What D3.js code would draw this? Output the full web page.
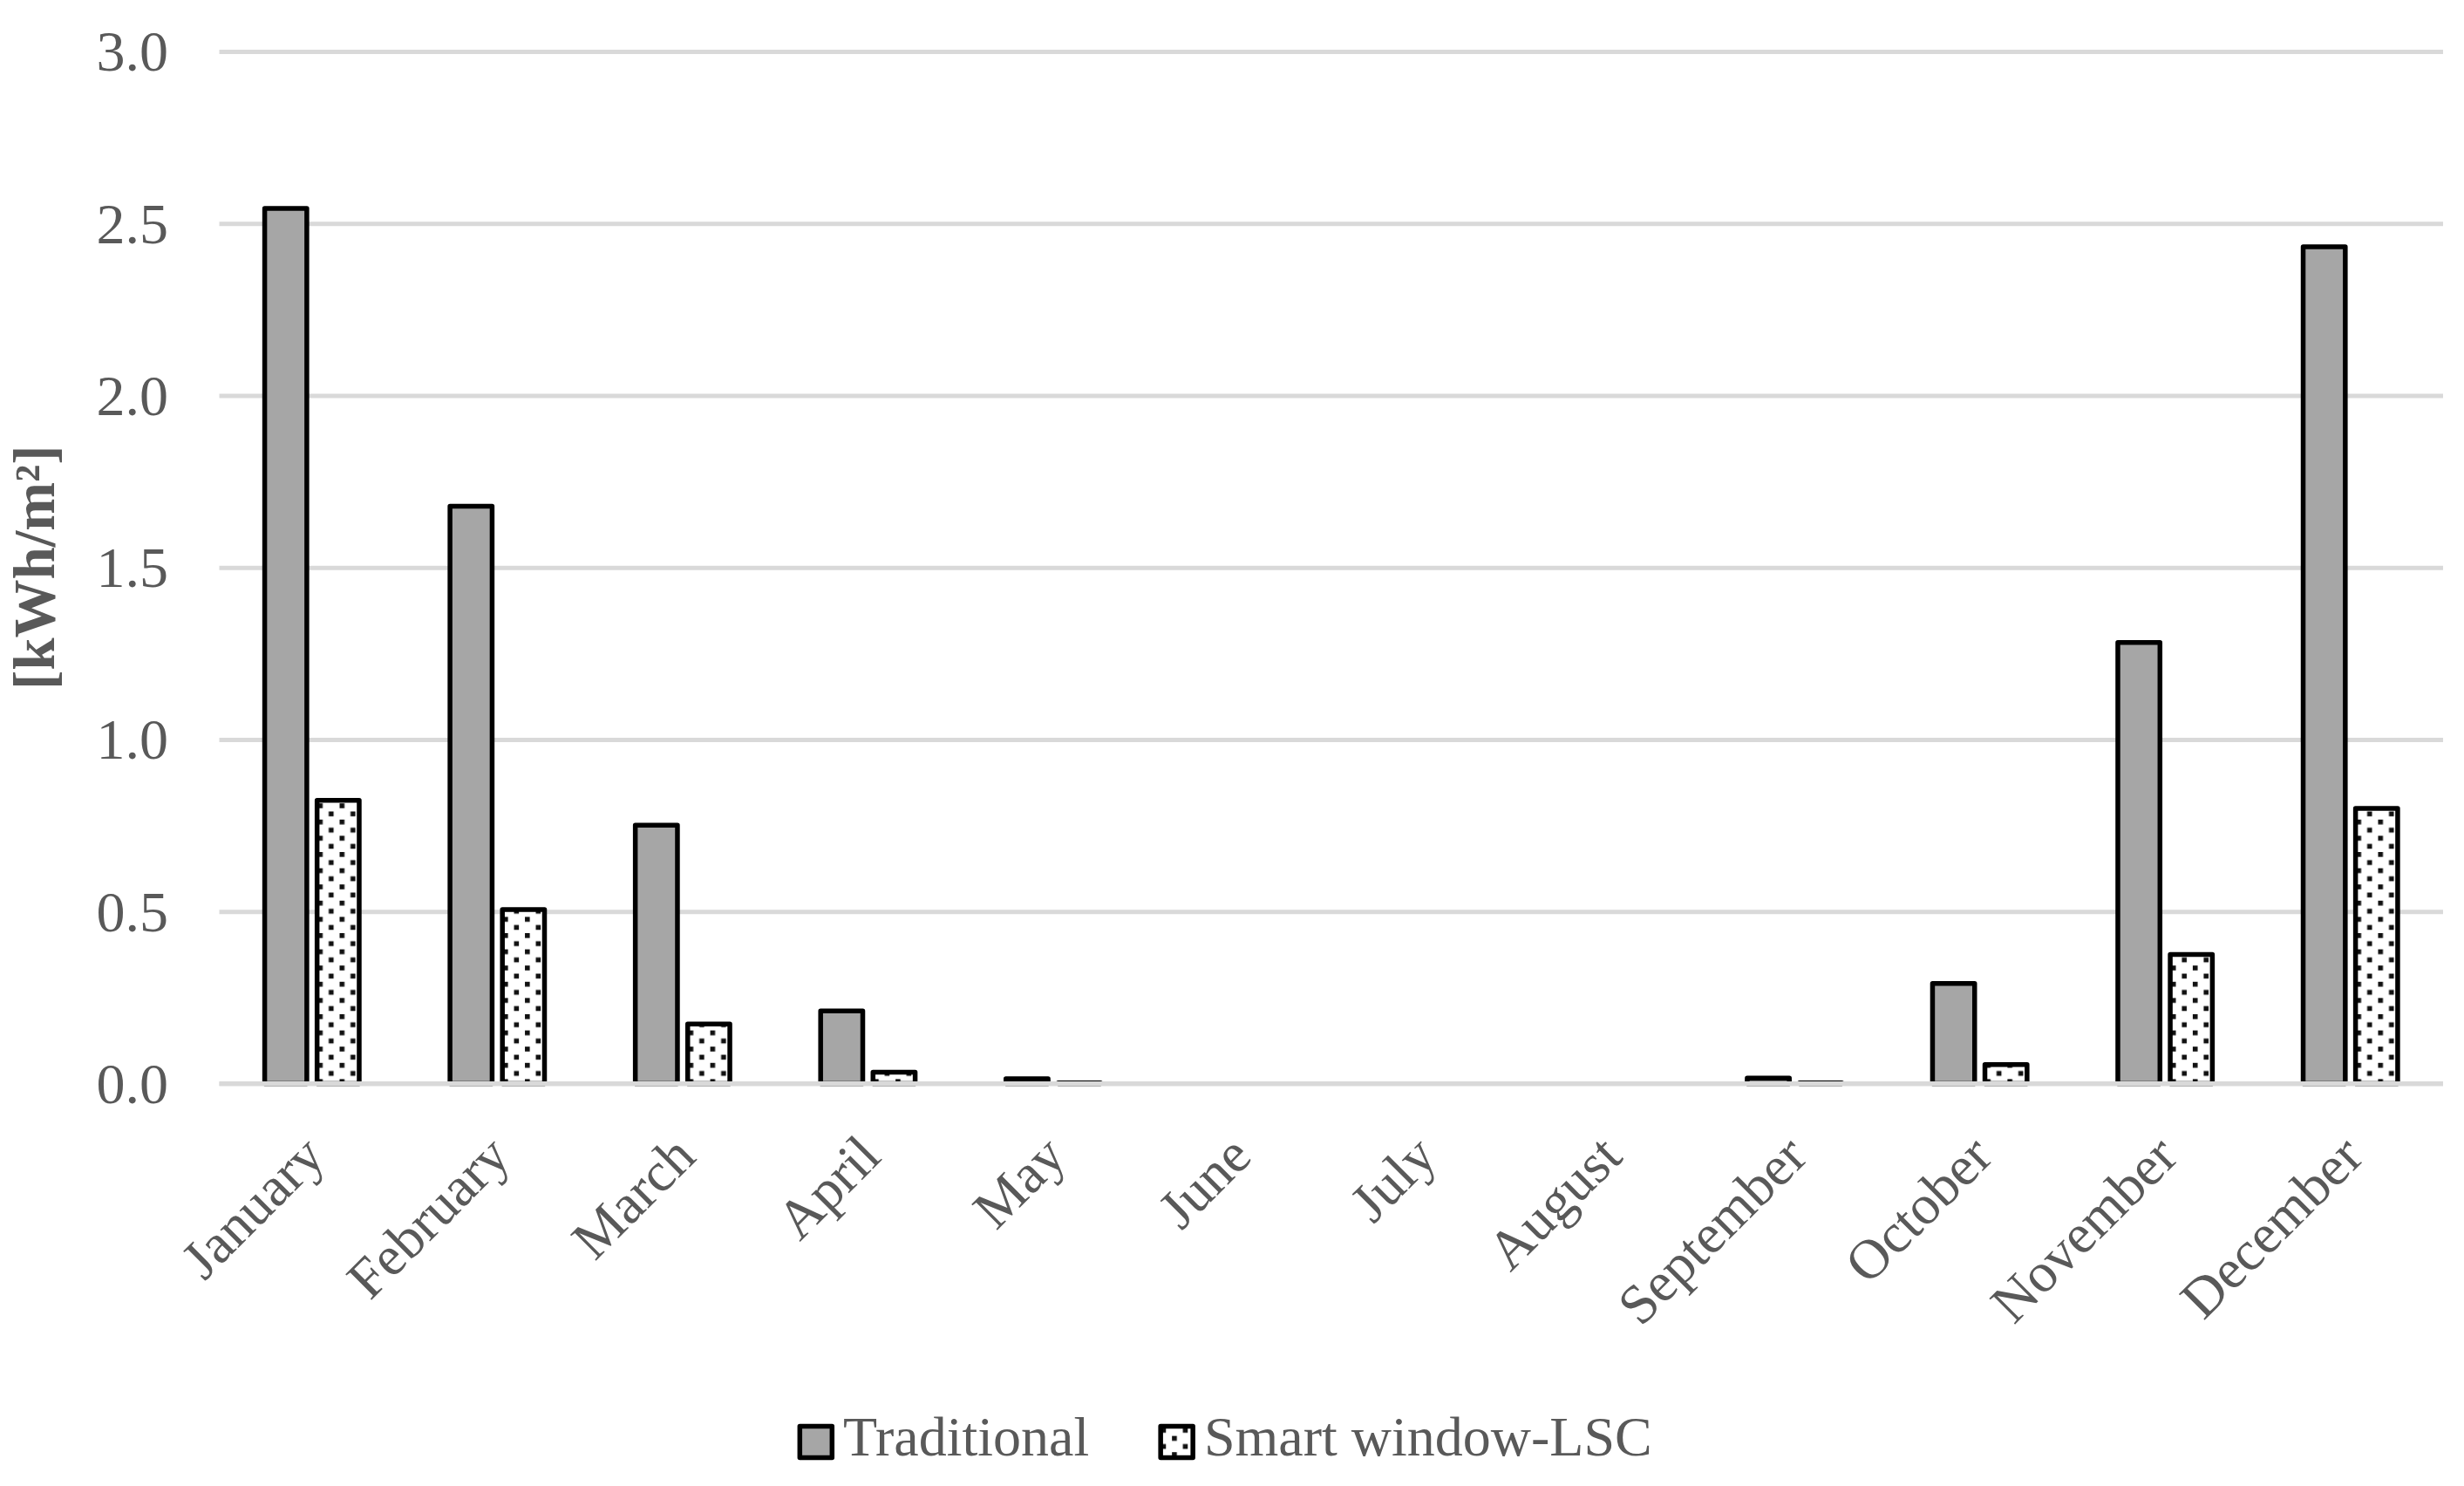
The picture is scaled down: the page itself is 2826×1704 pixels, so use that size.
<!DOCTYPE html>
<html>
<head>
<meta charset="utf-8">
<script src="https://cdn.jsdelivr.net/npm/d3@7"></script>
<style>
  html, body { margin: 0; padding: 0; background: #ffffff; }
  svg { display: block; }
</style>
</head>
<body>
<script>
// ---- Data ----
const months = ["January", "February", "March", "April", "May", "June",
                "July", "August", "September", "October", "November", "December"];
const seriesNames = ["Traditional", "Smart window-LSC"];
const traditional = [2.544, 1.678, 0.751, 0.211, 0.014, 0, 0, 0, 0.016, 0.291, 1.282, 2.432];
const smartLSC    = [0.823, 0.506, 0.173, 0.033, 0.002, 0, 0, 0, 0.002, 0.055, 0.375, 0.800];
const yTicks = [0, 0.5, 1.0, 1.5, 2.0, 2.5, 3.0];
const yTitle = "[kWh/m²]";

// ---- Layout ----
const W = 2826, H = 1704;
const plotLeft = 251.5, plotRight = 2802, plotTop = 59, plotBottom = 1242.5;
const textColor = "#595959";
const fontFamily = "'Liberation Serif', 'DejaVu Serif', serif";

const svg = d3.select("body").append("svg")
  .attr("width", W).attr("height", H)
  .attr("viewBox", `0 0 ${W} ${H}`);

svg.append("rect").attr("width", W).attr("height", H).attr("fill", "#ffffff");

// dotted pattern
const defs = svg.append("defs");
const pat = defs.append("pattern")
  .attr("id", "dots").attr("patternUnits", "userSpaceOnUse")
  .attr("width", 25).attr("height", 18.6);
pat.append("rect").attr("width", 25).attr("height", 18.6).attr("fill", "#ffffff");
pat.append("rect").attr("x", 0.5).attr("y", 0.5).attr("width", 5.6).attr("height", 5.6).attr("fill", "#111");
pat.append("rect").attr("x", 13).attr("y", 9.8).attr("width", 5.6).attr("height", 5.6).attr("fill", "#111");

// ---- Scales ----
const x = d3.scaleBand().domain(months).range([plotLeft, plotRight]).padding(0);
const y = d3.scaleLinear().domain([0, 3]).range([plotBottom, plotTop]);
const half = 54.2;
const xs = d3.scaleBand().domain(seriesNames)
  .range([x.bandwidth() / 2 - half, x.bandwidth() / 2 + half])
  .paddingInner(0.196).paddingOuter(0);

const fills = { "Traditional": "#a6a6a6", "Smart window-LSC": "url(#dots)" };

// ---- Gridlines ----
const grid = svg.append("g").attr("transform", `translate(${plotLeft},0)`)
  .call(d3.axisLeft(y).tickValues(yTicks).tickSize(-(plotRight - plotLeft)).tickFormat(""));
grid.select(".domain").remove();
grid.selectAll("line").attr("stroke", "#d9d9d9").attr("stroke-width", 5);

// ---- Y axis labels ----
const yAxis = svg.append("g").attr("transform", `translate(${plotLeft},0)`)
  .call(d3.axisLeft(y).tickValues(yTicks).tickSize(0).tickPadding(58.5).tickFormat(d3.format(".1f")));
yAxis.select(".domain").remove();
yAxis.selectAll("text")
  .attr("font-family", fontFamily).attr("font-size", 66).attr("fill", textColor)
  .attr("dy", "0.33em");

// ---- Bars ----
const rows = months.map((m, i) => ({ month: m, values: [
  { key: seriesNames[0], value: traditional[i] },
  { key: seriesNames[1], value: smartLSC[i] }
]}));

const groups = svg.append("g").selectAll("g").data(rows).join("g")
  .attr("transform", d => `translate(${x(d.month)},0)`);
groups.selectAll("rect").data(d => d.values.filter(v => v.value > 0)).join("rect")
  .attr("x", d => xs(d.key))
  .attr("width", xs.bandwidth())
  .attr("y", d => y(d.value))
  .attr("height", d => y(0) - y(d.value))
  .attr("fill", d => fills[d.key])
  .attr("stroke", "#000").attr("stroke-width", 5.5)
  .attr("stroke-linejoin", "round");

// zero line on top of bars
svg.append("line")
  .attr("x1", plotLeft).attr("x2", plotRight)
  .attr("y1", y(0)).attr("y2", y(0))
  .attr("stroke", "#d9d9d9").attr("stroke-width", 5);

// ---- X axis labels ----
const xAxis = svg.append("g").attr("transform", `translate(0,${plotBottom})`)
  .call(d3.axisBottom(x).tickSize(0));
xAxis.select(".domain").remove();
xAxis.selectAll("text")
  .attr("font-family", fontFamily).attr("font-size", 64).attr("fill", textColor)
  .attr("text-anchor", "end")
  .attr("x", 0).attr("y", 0).attr("dy", 0)
  .attr("transform", "translate(17.5,86.5) rotate(-45)");

// ---- Y title ----
svg.append("text")
  .attr("transform", `translate(62,${(plotTop + plotBottom) / 2}) rotate(-90)`)
  .attr("text-anchor", "middle")
  .attr("font-family", fontFamily).attr("font-size", 67).attr("font-weight", "bold")
  .attr("fill", textColor)
  .text(yTitle);

// ---- Legend ----
const legend = svg.append("g");
const swW = 37, swH = 36, swGap = 12, itemGap = 82, legBaseline = 1669, legCenterY = 1653.5;
const items = legend.selectAll("g").data(seriesNames).join("g");
items.append("rect")
  .attr("x", 0).attr("y", legCenterY - swH / 2)
  .attr("width", swW).attr("height", swH)
  .attr("fill", d => fills[d])
  .attr("stroke", "#000").attr("stroke-width", 5.5).attr("stroke-linejoin", "round");
items.append("text")
  .attr("x", swW + 2.75 + swGap - 2).attr("y", legBaseline)
  .attr("font-family", fontFamily).attr("font-size", 64).attr("fill", textColor)
  .text(d => d);
const widths = [];
items.each(function() {
  const t = d3.select(this).select("text").node().getComputedTextLength();
  widths.push(swW + 2.75 + swGap - 2 + t);
});
const total = widths.reduce((a, b) => a + b, 0) + itemGap * (widths.length - 1);
let startX = W / 2 - total / 2 - 7;
items.attr("transform", (d, i) => {
  const tx = startX;
  startX += widths[i] + itemGap;
  return `translate(${tx},0)`;
});
</script>
</body>
</html>
